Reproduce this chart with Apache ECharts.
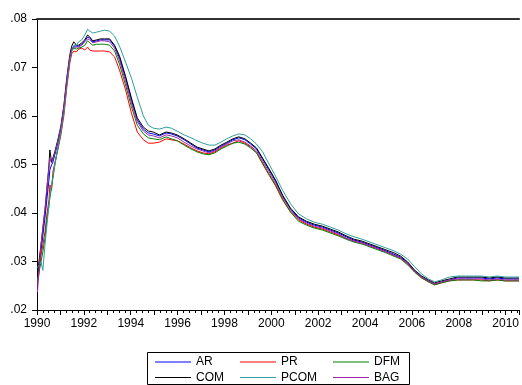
<!DOCTYPE html>
<html>
<head>
<meta charset="utf-8">
<script src="https://cdn.jsdelivr.net/npm/echarts@6/dist/echarts.min.js"></script>
<style>
  html, body { margin: 0; padding: 0; background: #fff; }
  #chart { width: 522px; height: 385px; }
</style>
</head>
<body>
<div id="chart"></div>
<script>
// Observation dates (fractional years)
const dates = [
  1990.02, 1990.08, 1990.17, 1990.25, 1990.34, 1990.42, 1990.51, 1990.55, 1990.62, 1990.68,
  1990.76, 1990.89, 1991.02, 1991.15, 1991.27, 1991.40, 1991.48, 1991.57, 1991.68, 1991.78,
  1991.91, 1992.04, 1992.16, 1992.25, 1992.38, 1992.55, 1992.71, 1992.88, 1993.10, 1993.31,
  1993.52, 1993.78, 1994.03, 1994.28, 1994.54, 1994.75, 1994.96, 1995.22, 1995.51, 1995.73,
  1995.98, 1996.28, 1996.57, 1996.83, 1997.08, 1997.34, 1997.59, 1997.85, 1998.10, 1998.36,
  1998.61, 1998.87, 1999.12, 1999.37, 1999.63, 1999.88, 2000.18, 2000.48, 2000.82, 2001.16,
  2001.50, 2001.83, 2002.17, 2002.51, 2002.85, 2003.19, 2003.53, 2003.87, 2004.21, 2004.55,
  2004.89, 2005.23, 2005.52, 2005.82, 2006.12, 2006.42, 2006.71, 2006.97, 2007.26, 2007.60,
  2007.94, 2008.28, 2008.62, 2008.96, 2009.30, 2009.64, 2009.98, 2010.32, 2010.57
];

const ar = [
  .0262, .0287, .0320, .0353, .0390, .0427, .0468, .0489, .0499, .0505,
  .0520, .0544, .0573, .0616, .0670, .0720, .0738, .0744, .0744, .0744,
  .0748, .0755, .0763, .0761, .0753, .0755, .0757, .0757, .0757, .0744,
  .0720, .0678, .0633, .0592, .0573, .0565, .0563, .0559, .0565, .0563,
  .0559, .0551, .0542, .0534, .0530, .0526, .0530, .0538, .0544, .0551,
  .0555, .0551, .0542, .0532, .0511, .0491, .0466, .0435, .0408, .0390,
  .0381, .0375, .0371, .0365, .0359, .0351, .0344, .0340, .0334, .0328,
  .0322, .0315, .0309, .0297, .0280, .0268, .0260, .0254, .0258, .0262,
  .0266, .0266, .0266, .0266, .0264, .0266, .0264, .0264, .0264
];

const pr = [
  .0252, .0272, .0313, .0334, .0361, .0396, .0427, .0458, .0447, .0485,
  .0503, .0530, .0561, .0602, .0658, .0709, .0728, .0734, .0732, .0738,
  .0740, .0736, .0742, .0736, .0734, .0734, .0734, .0734, .0732, .0722,
  .0695, .0654, .0606, .0567, .0551, .0544, .0544, .0546, .0553, .0551,
  .0549, .0542, .0534, .0528, .0524, .0522, .0526, .0534, .0540, .0544,
  .0549, .0544, .0536, .0524, .0501, .0480, .0456, .0427, .0402, .0386,
  .0377, .0371, .0367, .0361, .0355, .0348, .0342, .0338, .0332, .0326,
  .0320, .0313, .0307, .0295, .0278, .0266, .0258, .0252, .0256, .0260,
  .0262, .0262, .0262, .0262, .0260, .0262, .0260, .0260, .0260
];

const dfm = [
  .0258, .0278, .0299, .0320, .0348, .0386, .0414, .0431, .0452, .0472,
  .0499, .0534, .0567, .0612, .0666, .0715, .0734, .0740, .0738, .0740,
  .0742, .0746, .0755, .0751, .0746, .0748, .0748, .0748, .0746, .0734,
  .0707, .0664, .0619, .0581, .0563, .0555, .0553, .0551, .0557, .0553,
  .0549, .0540, .0532, .0526, .0522, .0520, .0524, .0532, .0538, .0544,
  .0546, .0542, .0534, .0524, .0503, .0482, .0458, .0429, .0402, .0383,
  .0375, .0369, .0365, .0359, .0353, .0346, .0340, .0336, .0330, .0324,
  .0318, .0311, .0305, .0293, .0278, .0266, .0258, .0252, .0256, .0260,
  .0262, .0262, .0262, .0260, .0260, .0262, .0260, .0260, .0260
];

const com = [
  .0270, .0299, .0334, .0369, .0406, .0447, .0499, .0530, .0505, .0509,
  .0526, .0551, .0579, .0623, .0678, .0726, .0744, .0753, .0746, .0746,
  .0751, .0757, .0767, .0763, .0755, .0757, .0759, .0759, .0759, .0746,
  .0724, .0682, .0637, .0596, .0577, .0569, .0567, .0561, .0567, .0565,
  .0561, .0553, .0544, .0536, .0532, .0528, .0532, .0540, .0546, .0553,
  .0557, .0553, .0544, .0534, .0513, .0493, .0468, .0437, .0410, .0392,
  .0383, .0377, .0373, .0367, .0361, .0353, .0346, .0342, .0336, .0330,
  .0324, .0318, .0311, .0299, .0282, .0270, .0262, .0256, .0260, .0264,
  .0268, .0268, .0268, .0268, .0266, .0268, .0266, .0266, .0266
];

const pcom = [
  .0287, .0291, .0299, .0282, .0334, .0373, .0416, .0437, .0458, .0474,
  .0499, .0534, .0567, .0608, .0664, .0715, .0736, .0746, .0746, .0753,
  .0757, .0767, .0779, .0775, .0771, .0773, .0775, .0777, .0775, .0765,
  .0744, .0711, .0678, .0639, .0600, .0581, .0575, .0573, .0577, .0575,
  .0569, .0561, .0555, .0549, .0544, .0540, .0540, .0546, .0553, .0559,
  .0563, .0561, .0553, .0542, .0526, .0503, .0476, .0447, .0419, .0398,
  .0388, .0381, .0377, .0371, .0365, .0357, .0351, .0346, .0340, .0334,
  .0328, .0322, .0315, .0305, .0289, .0274, .0264, .0258, .0262, .0268,
  .0270, .0270, .0270, .0270, .0268, .0270, .0268, .0268, .0268
];

const bag = [
  .0237, .0282, .0334, .0369, .0406, .0452, .0493, .0513, .0503, .0499,
  .0522, .0549, .0577, .0620, .0674, .0722, .0736, .0742, .0742, .0742,
  .0746, .0753, .0759, .0757, .0751, .0753, .0755, .0755, .0753, .0740,
  .0715, .0672, .0627, .0588, .0569, .0561, .0559, .0555, .0561, .0559,
  .0555, .0546, .0538, .0532, .0528, .0524, .0528, .0536, .0542, .0549,
  .0551, .0546, .0538, .0528, .0507, .0487, .0462, .0433, .0406, .0388,
  .0379, .0373, .0369, .0363, .0357, .0348, .0342, .0338, .0332, .0326,
  .0320, .0313, .0307, .0295, .0280, .0268, .0260, .0254, .0258, .0262,
  .0264, .0264, .0264, .0264, .0262, .0264, .0262, .0262, .0262
];

const seriesNames = ['AR', 'PR', 'DFM', 'COM', 'PCOM', 'BAG'];
const seriesValues = [ar, pr, dfm, com, pcom, bag];
const seriesColors = ['#0000ff', '#ff0000', '#008000', '#000000', '#2f9e9e', '#9a2aa8'];

const FONT = 'Liberation Sans, Arial, sans-serif';
const X_MIN = 1990, X_MAX = 2010.573;

const chart = echarts.init(document.getElementById('chart'), null, { renderer: 'canvas' });

const series = seriesNames.map((name, i) => ({
  name,
  type: 'line',
  symbol: 'none',
  showSymbol: false,
  color: seriesColors[i],
  lineStyle: { width: 1, color: seriesColors[i] },
  data: dates.map((d, k) => [d, seriesValues[i][k]]),
  animation: false
}));

// Legend laid out as two rows of three aligned columns; each key is a thin bar
const legendCols = [155, 240, 333];
const legendRows = [356, 371.5];
const legends = seriesNames.map((name, i) => ({
  data: [name],
  left: legendCols[i % 3],
  top: legendRows[Math.floor(i / 3)],
  padding: 0,
  icon: 'rect',
  itemWidth: 36,
  itemHeight: 1,
  selectedMode: false,
  textStyle: { fontSize: 12, color: '#000', fontFamily: FONT }
}));

chart.setOption({
  animation: false,
  backgroundColor: '#fff',
  grid: { left: 37, top: 19, right: 0, bottom: 75, containLabel: false },
  xAxis: [
    {
      type: 'value',
      position: 'bottom',
      min: X_MIN,
      max: X_MAX,
      interval: 1,
      axisLine: { show: true, lineStyle: { color: '#000', width: 1 } },
      axisTick: { show: true, inside: false, length: 5, lineStyle: { color: '#000' } },
      minorTick: { show: true, splitNumber: 4, length: 3, lineStyle: { color: '#000' } },
      splitLine: { show: false },
      axisLabel: {
        margin: 8,
        fontSize: 12,
        color: '#000',
        fontFamily: FONT,
        showMaxLabel: false,
        formatter: v => (Math.round(v) % 2 === 0 ? String(Math.round(v)) : '')
      }
    },
    {
      type: 'value',
      position: 'top',
      min: X_MIN,
      max: X_MAX,
      axisLine: { show: true, lineStyle: { color: '#333', width: 2 } },
      axisTick: { show: false },
      axisLabel: { show: false },
      splitLine: { show: false }
    }
  ],
  yAxis: {
    type: 'value',
    min: 0.02,
    max: 0.08,
    interval: 0.01,
    axisLine: { show: true, lineStyle: { color: '#000', width: 1 } },
    axisTick: { show: true, inside: false, length: 5, lineStyle: { color: '#000' } },
    splitLine: { show: false },
    axisLabel: {
      margin: 10,
      fontSize: 12,
      color: '#000',
      fontFamily: FONT,
      formatter: v => v.toFixed(2).replace(/^0/, '')
    }
  },
  legend: legends,
  graphic: [
    {
      type: 'rect',
      silent: true,
      shape: { x: 147.5, y: 352.5, width: 262, height: 32 },
      style: { fill: 'none', stroke: '#000', lineWidth: 1 }
    }
  ],
  series
});
</script>
</body>
</html>
